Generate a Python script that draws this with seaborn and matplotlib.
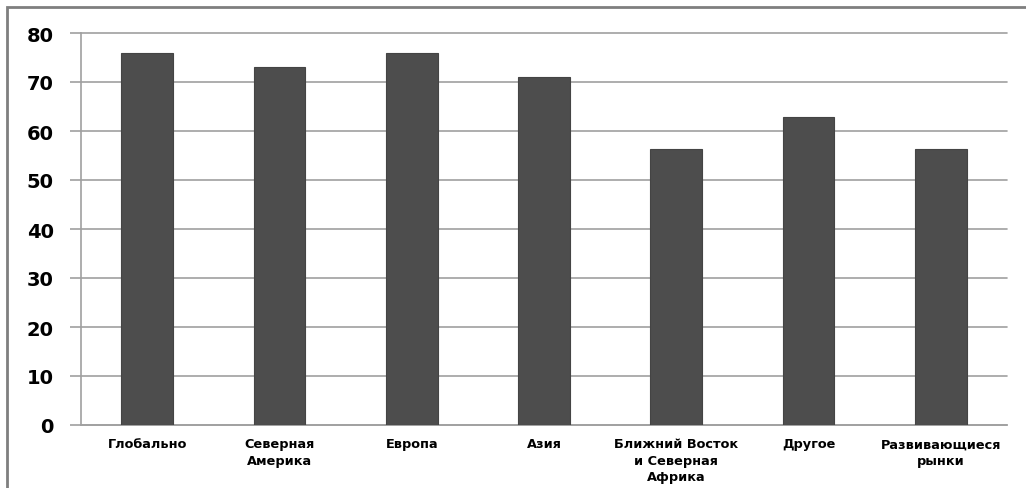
import matplotlib
matplotlib.use("Agg")
import matplotlib.pyplot as plt
import seaborn as sns
import pandas as pd
from matplotlib.patches import Rectangle

categories = ["Глобально", "Северная\nАмерика", "Европа", "Азия",
              "Ближний Восток\nи Северная\nАфрика", "Другое", "Развивающиеся\nрынки"]
values = [76, 73, 76, 71, 56.3, 62.8, 56.3]
yticks = [0, 10, 20, 30, 40, 50, 60, 70, 80]

sns.set_theme(style="white")
plt.rcParams['font.family'] = ['DejaVu Sans']

df = pd.DataFrame({"cat": categories, "val": values})

fig = plt.figure(figsize=(10.26, 4.89), dpi=100)
ax = fig.add_axes([81/1026, 63/489, (1007-81)/1026, (426-34)/489])

sns.barplot(data=df, x="cat", y="val", color="#4d4d4d", width=0.39,
            saturation=1, ax=ax, edgecolor="#444444", linewidth=0.8, zorder=3)

ax.set_ylim(0, 80)
ax.set_xlim(-0.5, len(categories) - 0.5)
ax.set_yticks(yticks)
ax.set_yticklabels([str(v) for v in yticks], fontsize=14, fontweight="bold", color="black")
ax.yaxis.grid(True, color="#a0a0a0", linewidth=1.2, zorder=0)
for gl in ax.yaxis.get_gridlines():
    gl.set_clip_on(False)
ax.set_axisbelow(True)
ax.set_xlabel("")
ax.set_ylabel("")

ax.set_xticks(range(len(categories)))
ax.set_xticklabels(categories, fontsize=9.3, fontweight="bold", color="black", linespacing=1.35)
ax.tick_params(axis="x", length=0, pad=9)
# minor ticks at category boundaries
ax.set_xticks([i - 0.5 for i in range(len(categories) + 1)], minor=True)
ax.tick_params(axis="x", which="minor", length=4, color="#a0a0a0", width=1, direction="out")
ax.tick_params(axis="y", length=8, color="#a0a0a0", width=1.2, direction="out", pad=11.5, left=True)

for s in ["top", "right"]:
    ax.spines[s].set_visible(False)
ax.spines["left"].set_color("#a0a0a0")
ax.spines["left"].set_linewidth(1.2)
ax.spines["bottom"].set_color("#a0a0a0")
ax.spines["bottom"].set_linewidth(1.2)

# outer chart border (clipped on right and bottom)
border = Rectangle((7/1026, -0.05), 1.1, 1 - 8/489 + 0.05, transform=fig.transFigure,
                   fill=False, edgecolor="#7f7f7f", linewidth=2, clip_on=False)
fig.patches.append(border)

fig.savefig("out.png", dpi=100)
